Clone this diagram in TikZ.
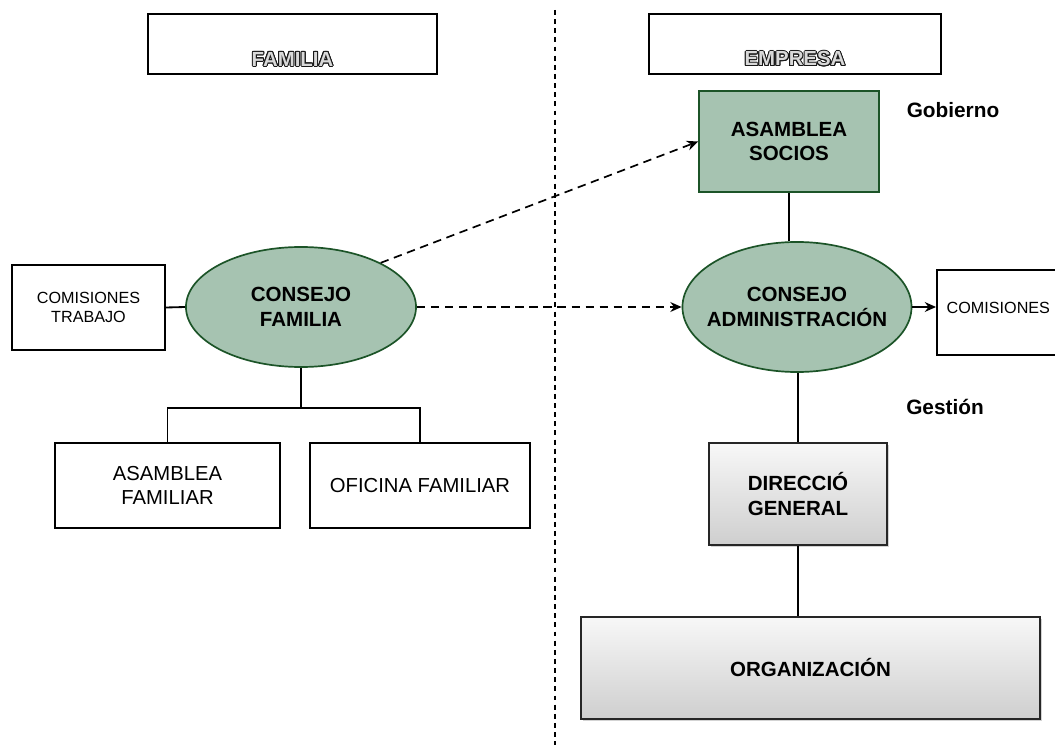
\documentclass[tikz,border=0pt]{standalone}
\usepackage{fontspec}
\setmainfont{Liberation Sans}
\usepackage{contour}
\contourlength{0.7pt}
\usetikzlibrary{shapes.geometric,arrows.meta,shadows}

\definecolor{salvia}{RGB}{166,195,177}
\definecolor{verdeosc}{RGB}{28,84,40}
\newcommand{\cabtexto}[1]{{\bfseries\fontsize{14.5}{16}\selectfont\color{gray!30}\contour{black!90}{#1}}}

\begin{document}
\begin{tikzpicture}[x=0.025cm,y=-0.025cm,
    caja/.style={draw,rectangle,line width=1.3pt,inner sep=0pt,align=center},
    verde/.style={draw=verdeosc,fill=salvia,line width=1.2pt,inner sep=0pt,align=center,
        font=\bfseries\fontsize{14.6}{17.5}\selectfont},
    elipse/.style={verde,ellipse,inner xsep=-0.6cm,inner ysep=0pt},
    gris/.style={caja,draw=black!85,line width=1.1pt,top color=gray!6,bottom color=gray!38,
        drop shadow={shadow xshift=1.5pt,shadow yshift=-1.5pt,opacity=0.35},
        font=\bfseries\fontsize{14.6}{17.5}\selectfont},
    nota/.style={font=\bfseries\fontsize{14.8}{17}\selectfont},
    linea/.style={line width=1.3pt},
    flecha/.style={line width=1.2pt,dash pattern=on 6pt off 4pt,-{Stealth[length=8pt,width=7pt]}}]
    \useasboundingbox (0,0) rectangle (1055,749);

    % cabeceras
    \node[caja,minimum width=7.225cm,minimum height=1.5cm,
        label={[anchor=south,yshift=2pt]south:\cabtexto{FAMILIA}}] (hfam) at (292.5,44) {};
    \node[caja,minimum width=7.3cm,minimum height=1.5cm,
        label={[anchor=south,yshift=2pt]south:\cabtexto{EMPRESA}}] (hemp) at (795,44) {};
    \draw[line width=0.9pt,dash pattern=on 3.5pt off 3pt] (555,10) -- (555,745);

    % familia
    \node[elipse,minimum width=5.75cm,minimum height=3cm] (cfam) at (301,307) {CONSEJO\\FAMILIA};
    \node[caja,minimum width=3.825cm,minimum height=2.125cm,font=\fontsize{11.5}{14}\selectfont]
        (ctrab) at (88.5,307.5) {COMISIONES\\TRABAJO};
    \node[caja,minimum width=5.625cm,minimum height=2.125cm,font=\fontsize{14.4}{17}\selectfont]
        (afam) at (167.5,485.5) {ASAMBLEA\\FAMILIAR};
    \node[caja,minimum width=5.5cm,minimum height=2.125cm,font=\fontsize{14.4}{17}\selectfont]
        (ofam) at (420,485.5) {OFICINA FAMILIAR};
    \coordinate (bar) at (301,408);

    \draw[linea] (ctrab.east) -- (cfam.west);
    \draw[linea] (cfam.south) -- (bar);
    \draw[linea] (afam.north) |- (bar) -| (ofam.north);

    % empresa
    \node[verde,rectangle,minimum width=4.5cm,minimum height=2.525cm] (asoc) at (789,141.5) {ASAMBLEA\\SOCIOS};
    \node[nota] (gob) at (953,110) {Gobierno};
    \node[elipse,minimum width=5.725cm,minimum height=3.25cm] (cadm) at (797,307) {CONSEJO\\ADMINISTRACIÓN};
    \node[caja,minimum width=3.15cm,minimum height=2.125cm,
        label={[anchor=west,xshift=4pt,yshift=3.5pt,font=\fontsize{11.5}{14}\selectfont]west:COMISIONES}]
        (com) at (1000,312.5) {};
    \node[nota] (gest) at (945,407) {Gestión};
    \node[gris,minimum width=4.45cm,minimum height=2.55cm] (dgen) at (798,494) {DIRECCIÓ\\GENERAL};
    \node[gris,minimum width=11.475cm,minimum height=2.55cm] (org) at (810.5,668) {ORGANIZACIÓN};

    \draw[linea] (asoc.south) -- (asoc.south |- cadm.north);
    \draw[linea] (dgen.north) -- (dgen.north |- cadm.south);
    \draw[linea] (dgen.south) -- (dgen.south |- org.north);
    \draw[linea,-{Stealth[length=8pt,width=7pt]}] (cadm.east) -- (cadm.east -| com.west);

    % relaciones
    \draw[flecha] (cfam.29) -- (asoc.west);
    \draw[flecha] (cfam.east) -- (cadm.west);
\end{tikzpicture}
\end{document}
